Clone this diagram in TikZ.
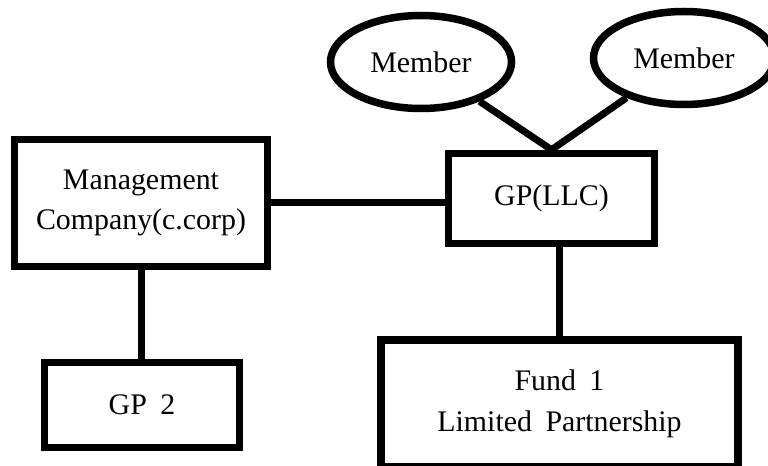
\documentclass[tikz,border=0pt]{standalone}
\usepackage{fontspec}
\setmainfont{Liberation Serif}[WordSpace=1.8]
\usetikzlibrary{shapes.geometric}
\begin{document}
\begin{tikzpicture}[x=1bp,y=-1bp,
 box/.style={draw,line width=7.5bp,inner sep=0pt,align=center,font=\fontsize{30}{41}\selectfont},
 member/.style={draw,ellipse,line width=7.5bp,minimum width=181bp,minimum height=93bp,inner sep=0pt,font=\fontsize{30}{41}\selectfont},
 link/.style={line width=7bp}]
\clip (0,0) rectangle (768,466);
\node[box,minimum width=253bp,minimum height=127bp] (mgmt) at (141,203) {Management\\Company(c.corp)};
\node[box,minimum width=206bp,minimum height=90bp] (gp) at (551.5,198.5) {GP(LLC)};
\node[box,minimum width=195bp,minimum height=85bp] (gp2) at (142,405) {GP 2};
\node[box,minimum width=357bp,minimum height=127bp] (fund) at (559.5,403.5) {Fund 1\\Limited Partnership};
\node[member] (mem1) at (421,62) {Member};
\node[member] (mem2) at (684,58) {Member};
\draw[link] (mgmt.east) -- (mgmt.east -| gp.west);
\draw[link] (mgmt.south) -- (mgmt.south |- gp2.north);
\draw[link] (gp.south -| fund.north) -- (fund.north);
\draw[link] (mem1) -- (gp.north); \draw[link] (mem2) -- (gp.north);
\end{tikzpicture}
\end{document}
